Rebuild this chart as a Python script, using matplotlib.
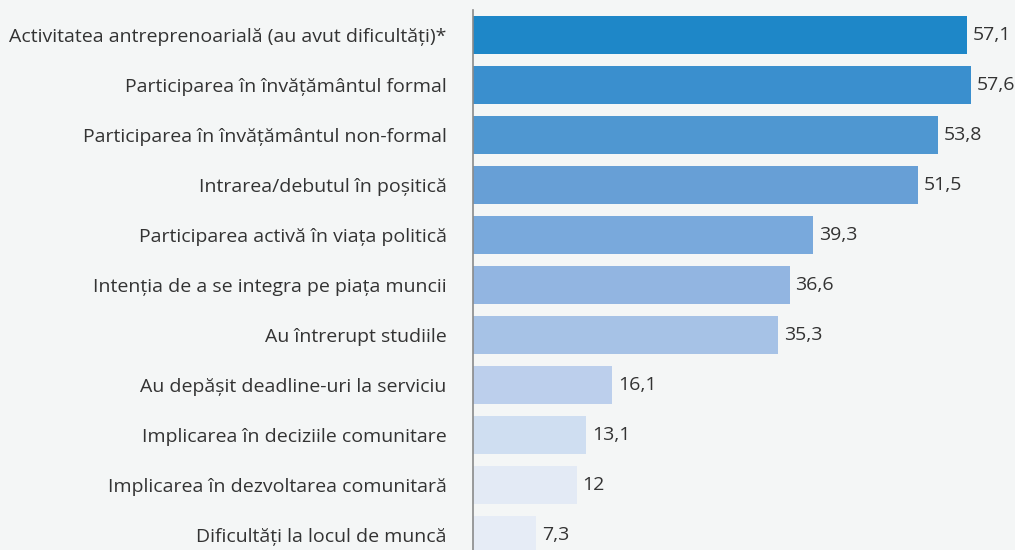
import matplotlib.pyplot as plt

categories = [
    "Activitatea antreprenoarială (au avut dificultăți)*",
    "Participarea în învățământul formal",
    "Participarea în învățământul non-formal",
    "Intrarea/debutul în poșitică",
    "Participarea activă în viața politică",
    "Intenția de a se integra pe piața muncii",
    "Au întrerupt studiile",
    "Au depășit deadline-uri la serviciu",
    "Implicarea în deciziile comunitare",
    "Implicarea în dezvoltarea comunitară",
    "Dificultăți la locul de muncă",
]
values = [57.1, 57.6, 53.8, 51.5, 39.3, 36.6, 35.3, 16.1, 13.1, 12, 7.3]
value_labels = ["57,1", "57,6", "53,8", "51,5", "39,3", "36,6", "35,3", "16,1", "13,1", "12", "7,3"]
colors = ["#1e87c8", "#3a8fce", "#4f97d1", "#679fd6", "#79a9dc", "#92b5e1",
          "#a6c2e6", "#bccfec", "#cfdef1", "#e3eaf5", "#e6ecf6"]

bg = "#f4f6f6"
txt = "#333333"
plt.rcParams['font.family'] = ['Open Sans', 'DejaVu Sans']

fig = plt.figure(figsize=(10.15, 5.5), dpi=100, facecolor=bg)
ax = fig.add_axes([473 / 1015, 0, 542 / 1015, 540 / 550], facecolor=bg)

y = list(range(len(values)))
ax.barh(y, values, height=0.76, color=colors)
ax.set_xlim(0, 542 / 8.65)
ax.set_ylim(10.3, -0.5)

for i, (v, lab) in enumerate(zip(values, value_labels)):
    ax.text(v + 0.65, i, lab, va="center", ha="left", fontsize=14, color=txt)

ax.set_yticks(y)
ax.set_yticklabels(categories, fontsize=14, color=txt)
ax.tick_params(axis="y", length=0, pad=19)
ax.set_xticks([])
for s in ["top", "right", "bottom"]:
    ax.spines[s].set_visible(False)
ax.spines["left"].set_color("#8a8a8a")
ax.spines["left"].set_linewidth(1.2)

fig.savefig("out.png", dpi=100, facecolor=bg)
